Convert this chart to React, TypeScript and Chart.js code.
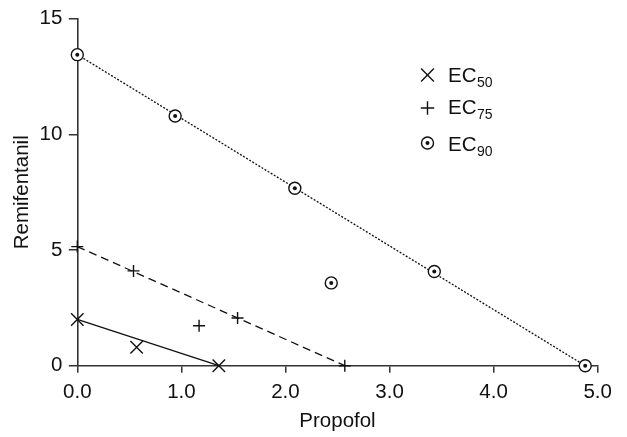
import React, { useEffect, useRef } from "react";
import { Chart, registerables } from "chart.js";

Chart.register(...registerables);

// ---- data ----
const ec50X = [0, 0.57, 1.36];
const ec50Y = [2.0, 0.8, 0];
const ec75X = [0, 0.54, 1.17, 1.54, 2.57];
const ec75Y = [5.15, 4.1, 1.73, 2.06, 0];
const ec90X = [0, 0.94, 2.09, 2.44, 3.43, 4.88];
const ec90Y = [13.45, 10.8, 7.67, 3.58, 4.07, 0];

// isobole (fit) lines: endpoints on the axes
const ec50LineX = [0, 1.36];
const ec50LineY = [2.0, 0];
const ec75LineX = [0, 2.57];
const ec75LineY = [5.15, 0];
const ec90LineX = [0, 4.88];
const ec90LineY = [13.45, 0];

const xTicks = [0, 1, 2, 3, 4, 5];
const yTicks = [0, 5, 10, 15];
const legendLabels = ["50", "75", "90"];

const xTitle = "Propofol";
const yTitle = "Remifentanil";

const FONT = "'Liberation Sans', Arial, sans-serif";
const FS = 20.5;
const INK = "#111";
const AXIS = "#333";

const pts = (xs: number[], ys: number[]) => xs.map((x, i) => ({ x, y: ys[i] }));

function drawCircleDot(ctx: CanvasRenderingContext2D, x: number, y: number) {
  ctx.save();
  ctx.beginPath();
  ctx.arc(x, y, 6, 0, Math.PI * 2);
  ctx.fillStyle = "#fff";
  ctx.fill();
  ctx.lineWidth = 1.4;
  ctx.strokeStyle = INK;
  ctx.stroke();
  ctx.beginPath();
  ctx.arc(x, y, 2, 0, Math.PI * 2);
  ctx.fillStyle = INK;
  ctx.fill();
  ctx.restore();
}

const legendPlugin = {
  id: "customLegend",
  afterDraw(chart: any) {
    const ctx: CanvasRenderingContext2D = chart.ctx;
    const mx = 427.5;
    const tx = 448;
    const rowsMarkerY = [75, 108, 143];
    const rowsBaseY = [82, 113.5, 150.5];
    ctx.save();
    ctx.strokeStyle = INK;
    ctx.lineWidth = 1.4;
    // X marker
    {
      const y = rowsMarkerY[0];
      const d = 6.4;
      ctx.beginPath();
      ctx.moveTo(mx - d, y - d);
      ctx.lineTo(mx + d, y + d);
      ctx.moveTo(mx - d, y + d);
      ctx.lineTo(mx + d, y - d);
      ctx.stroke();
    }
    // + marker
    {
      const y = rowsMarkerY[1];
      const d = 6.7;
      ctx.beginPath();
      ctx.moveTo(mx - d, y);
      ctx.lineTo(mx + d, y);
      ctx.moveTo(mx, y - d);
      ctx.lineTo(mx, y + d);
      ctx.stroke();
    }
    drawCircleDot(ctx, mx, rowsMarkerY[2]);

    ctx.fillStyle = INK;
    ctx.textBaseline = "alphabetic";
    ctx.textAlign = "left";
    legendLabels.forEach((lab, i) => {
      ctx.font = `${FS}px ${FONT}`;
      ctx.fillText("EC", tx, rowsBaseY[i]);
      const w = ctx.measureText("EC").width;
      ctx.font = `14px ${FONT}`;
      ctx.fillText(lab, tx + w + 0.5, rowsBaseY[i] + 5);
    });
    ctx.restore();
  },
};

export default function App() {
  const ref = useRef<HTMLCanvasElement | null>(null);

  useEffect(() => {
    if (!ref.current) return;
    const lineBase = {
      type: "line" as const,
      showLine: true,
      pointRadius: 0,
      borderColor: INK,
      borderWidth: 1.3,
      fill: false,
      clip: false as any,
    };
    const chart = new Chart(ref.current, {
      type: "scatter",
      data: {
        datasets: [
          {
            label: "EC90 dot",
            data: pts(ec90X, ec90Y),
            pointStyle: "circle",
            pointRadius: 2,
            backgroundColor: INK,
            borderColor: INK,
            borderWidth: 0,
            clip: false as any,
          },
          {
            label: "EC90",
            data: pts(ec90X, ec90Y),
            pointStyle: "circle",
            pointRadius: 6,
            backgroundColor: "#fff",
            borderColor: INK,
            borderWidth: 1.4,
            clip: false as any,
          },
          {
            label: "EC75",
            data: pts(ec75X, ec75Y),
            pointStyle: "cross",
            pointRadius: 6,
            borderColor: INK,
            borderWidth: 1.4,
            clip: false as any,
          },
          {
            label: "EC50",
            data: pts(ec50X, ec50Y),
            pointStyle: "crossRot",
            pointRadius: 8.8,
            borderColor: INK,
            borderWidth: 1.4,
            clip: false as any,
          },
          { ...lineBase, label: "EC90 line", data: pts(ec90LineX, ec90LineY), borderDash: [2, 1.6] },
          { ...lineBase, label: "EC75 line", data: pts(ec75LineX, ec75LineY), borderDash: [8, 5] },
          { ...lineBase, label: "EC50 line", data: pts(ec50LineX, ec50LineY) },
        ] as any,
      },
      options: {
        responsive: false,
        animation: false,
        devicePixelRatio: 1,
        layout: { padding: { left: 0, top: 15, right: 29.3, bottom: 0 } },
        plugins: { legend: { display: false }, tooltip: { enabled: false } },
        scales: {
          x: {
            type: "linear",
            min: xTicks[0],
            max: xTicks[xTicks.length - 1],
            afterFit: (s: any) => {
              s.height = 71.3;
            },
            afterBuildTicks: (s: any) => {
              s.ticks = xTicks.map((v) => ({ value: v }));
            },
            grid: {
              drawOnChartArea: false,
              drawTicks: true,
              tickLength: 7,
              color: AXIS,
              lineWidth: 1.5,
            },
            border: { display: true, color: AXIS, width: 1.6 },
            ticks: {
              padding: 7,
              color: INK,
              font: { family: FONT, size: FS },
              callback: (v: any) => Number(v).toFixed(1),
              maxRotation: 0,
            },
            title: {
              display: true,
              text: xTitle,
              color: INK,
              font: { family: FONT, size: FS },
              padding: { top: 0, bottom: 3.5 },
            },
          },
          y: {
            type: "linear",
            min: yTicks[0],
            max: yTicks[yTicks.length - 1],
            afterFit: (s: any) => {
              s.width = 77.3;
            },
            afterBuildTicks: (s: any) => {
              s.ticks = yTicks.map((v) => ({ value: v }));
            },
            grid: {
              drawOnChartArea: false,
              drawTicks: true,
              tickLength: 8.5,
              color: AXIS,
              lineWidth: 1.5,
            },
            border: { display: true, color: AXIS, width: 1.6 },
            ticks: {
              padding: 6.5,
              color: INK,
              font: { family: FONT, size: FS },
              callback: (v: any) => String(v),
            },
            title: {
              display: true,
              text: yTitle,
              color: INK,
              font: { family: FONT, size: FS },
              padding: { top: 10.5, bottom: 0 },
            },
          },
        },
      } as any,
      plugins: [legendPlugin],
    });
    return () => chart.destroy();
  }, []);

  return (
    <div style={{ position: "fixed", left: 0, top: 0, width: 627, height: 437, background: "#fff" }}>
      <canvas ref={ref} width={627} height={437} style={{ display: "block" }} />
    </div>
  );
}
